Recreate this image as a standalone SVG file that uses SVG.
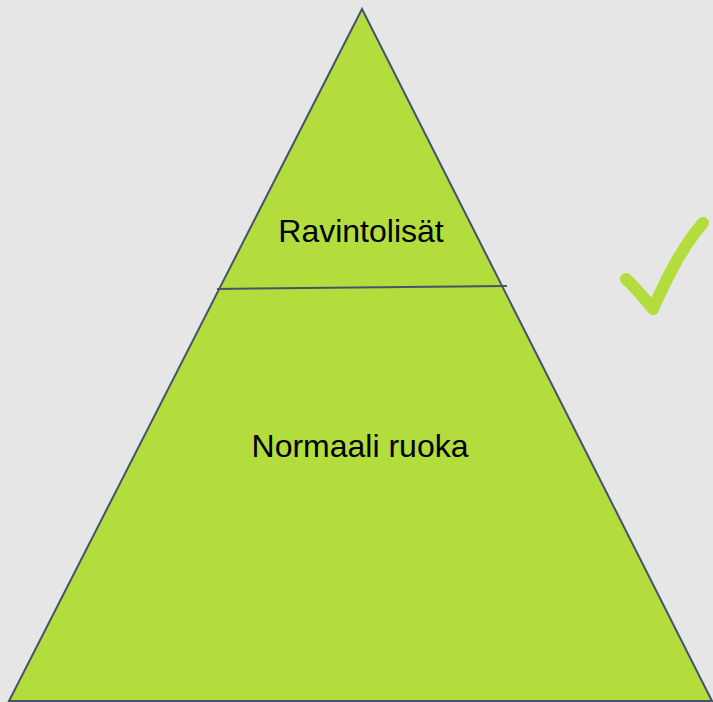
<svg xmlns="http://www.w3.org/2000/svg" width="713" height="702" viewBox="0 0 713 702">
  <style>
    .label { font-family: "Liberation Sans", Arial, sans-serif; font-size: 32px; fill: #000; text-anchor: middle; }
    .edge { stroke: #44546a; stroke-width: 2; fill: none; }
  </style>
  <rect x="0" y="0" width="713" height="702" fill="#e6e6e6"/>
  <g id="pyramid">
    <polygon points="362,9 9,701 712,701" fill="#b3dc3d" stroke="#44546a" stroke-width="2" stroke-linejoin="miter"/>
  </g>
  <g id="connectors">
    <line class="edge" x1="217" y1="289" x2="507" y2="286"/>
  </g>
  <g id="top-level">
    <text class="label" x="361" y="242">Ravintolisät</text>
  </g>
  <g id="base-level">
    <text class="label" x="360" y="457">Normaali ruoka</text>
  </g>
  <g id="check">
    <!-- hand-drawn tick: short stroke down, long stroke up -->
    <path d="M626,279 C636,288 645,299 653,309 C665,282 681,248 703,223" fill="none" stroke="#b3dc3d" stroke-width="12" stroke-linecap="round" stroke-linejoin="round"/>
  </g>
</svg>
